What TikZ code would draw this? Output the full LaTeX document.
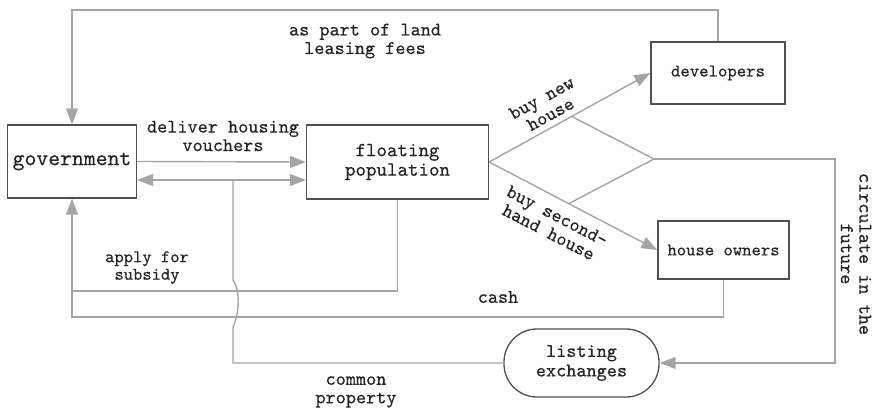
\documentclass[tikz,border=0pt]{standalone}
\usepackage{fontspec}
\setmainfont[FakeBold=0.35]{lmmono10-regular.otf}
\usetikzlibrary{arrows.meta,calc}
\definecolor{linec}{RGB}{165,165,165}
\definecolor{boxc}{RGB}{80,80,80}
\definecolor{txtc}{RGB}{35,35,35}
\tikzset{
  box/.style={draw=boxc, line width=1.3pt, rectangle, inner sep=0pt, text=txtc, align=center},
  conn/.style={draw=linec, line width=1.4pt},
  tip/.style={-{Triangle[length=16pt,width=12pt]}},
  lbl/.style={inner sep=0pt, text=txtc, align=center, font=\fontsize{19.3}{18.5}\selectfont},
}
\begin{document}
\begin{tikzpicture}[x=1pt,y=-1pt]
\useasboundingbox (0,0) rectangle (877,410);
% nodes
\node[box, minimum width=129pt, minimum height=73pt, font=\fontsize{22.6}{22}\selectfont] (gov) at (72,161.5) {government};
\node[box, minimum width=182pt, minimum height=74pt, font=\fontsize{20}{19.5}\selectfont] (flt) at (397.5,162) {floating\\population};
\node[box, minimum width=134pt, minimum height=62pt, font=\fontsize{17.9}{18}\selectfont] (dev) at (718,73) {developers};
\node[box, minimum width=131pt, minimum height=58pt, font=\fontsize{17.8}{18}\selectfont] (own) at (723.5,250) {house owners};
\node[box, minimum width=155pt, minimum height=68pt, rounded corners=33pt, font=\fontsize{19.3}{19.5}\selectfont] (lst) at (581.5,363) {listing\\exchanges};
\coordinate (top) at (0,10);
\coordinate (dbl) at (0,180);
\coordinate (sub) at (0,291);
\coordinate (csh) at (0,317);
\coordinate (jn) at (654,159);
\coordinate (rt) at (835,159);
% connectors
\draw[conn,tip] (dev.north) -- (dev.north |- top) -| (gov.north);
\draw[conn,tip] (gov.east) -- (flt.west);
\draw[conn,{Triangle[length=16pt,width=12pt]}-{Triangle[length=16pt,width=12pt]}] (gov.east |- dbl) -- (flt.west |- dbl);
\coordinate (cp) at (233,180);
\draw[conn] (cp) -- (233,280) .. controls (240,290) and (240,312) .. (233,327) -- (233,363) -- (lst.west);
\draw[conn,tip] (flt.south) |- (gov.south |- sub) -- (gov.south);
\draw[conn] (own.south) |- (gov.south |- csh) -- (gov.south |- sub);
\draw[conn,tip] (flt.east) -- (dev.west);
\draw[conn,tip] (flt.east) -- (own.west);
\coordinate (b1) at ($(flt.east)!0.512!(dev.west)$);
\coordinate (b2) at ($(flt.east)!0.473!(own.west)$);
\draw[conn] (b1) -- (jn) -- (b2);
\draw[conn,tip] (jn) -- (rt) |- (lst.east);
% labels
\node[lbl] (l1) at (365,41) {as part of land\\leasing fees};
\node[lbl] (l2) at (223,136) {deliver housing\\vouchers};
\node[lbl, font=\fontsize{17.7}{17.5}\selectfont] (l3) at (147,267.5) {apply for\\subsidy};
\node[lbl] (l4) at (498,297) {cash};
\node[lbl] (l5) at (356,392) {common\\property};
\node[lbl, rotate=-90] (l6) at (856,254) {circulate in the\\future};
\node[lbl, rotate=28.5] (l7) at (546,106) {buy new\\house};
\node[lbl, rotate=-27.5] (l8) at (553,224) {buy second-\\hand house};
\end{tikzpicture}
\end{document}
